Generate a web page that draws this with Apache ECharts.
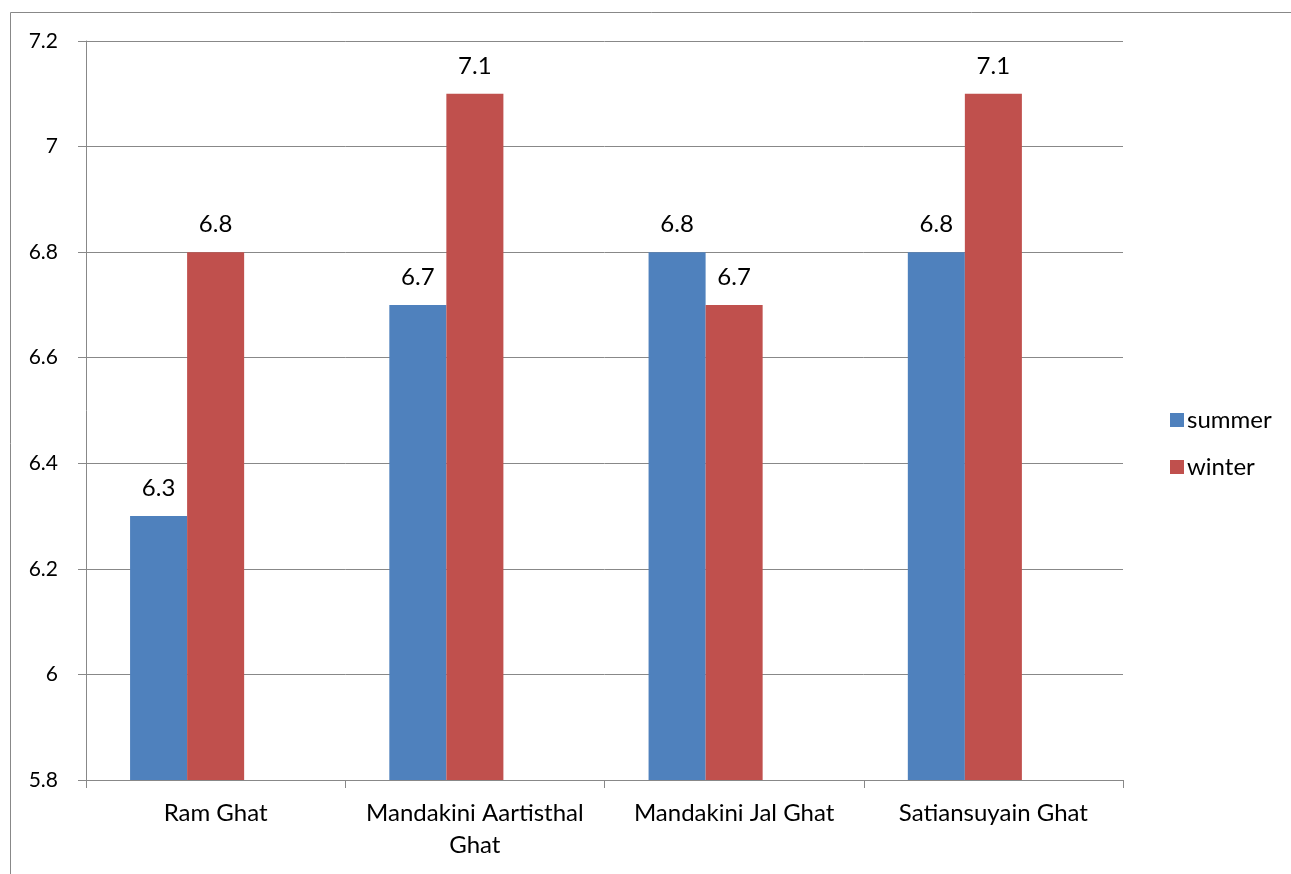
<!DOCTYPE html>
<html><head><meta charset="utf-8">
<script src="https://cdn.jsdelivr.net/npm/echarts@6/dist/echarts.min.js"></script>
<style>html,body{margin:0;padding:0;background:#fff}#c{width:1291px;height:874px}</style>
</head><body><div id="c"></div>
<script>
const categories = ['Ram Ghat', 'Mandakini Aartisthal\nGhat', 'Mandakini Jal Ghat', 'Satiansuyain Ghat'];
const summer = [6.3, 6.7, 6.8, 6.8];
const winter = [6.8, 7.1, 6.7, 7.1];
const emptySlot = ['-', '-', '-', '-'];
const yTicks = [5.8, 6, 6.2, 6.4, 6.6, 6.8, 7, 7.2];

const font = 'Lato, "Open Sans", sans-serif';
const chart = echarts.init(document.getElementById('c'), null, {renderer: 'canvas'});
const dataLabel = {show: true, position: 'top', distance: 16, fontSize: 24, color: '#000', fontFamily: font};
chart.setOption({
  animation: false,
  textStyle: {fontFamily: font},
  graphic: [{type: 'rect', shape: {x: 10.5, y: 12.5, width: 1400, height: 1000}, style: {fill: 'none', stroke: '#888', lineWidth: 1}, silent: true}],
  grid: {left: 86, top: 41, width: 1037, height: 739, containLabel: false},
  legend: {
    orient: 'vertical', left: 1165, top: 403, itemWidth: 14, itemHeight: 14, itemGap: 23,
    icon: 'rect', textStyle: {fontSize: 24, color: '#000', fontFamily: font, padding: [0, 0, 0, -2]},
    data: ['summer', 'winter']
  },
  xAxis: {
    type: 'category', data: categories,
    axisLine: {lineStyle: {color: '#888', width: 1}},
    axisTick: {show: true, length: 8, lineStyle: {color: '#888'}},
    axisLabel: {fontSize: 24, color: '#000', margin: 17, lineHeight: 32, interval: 0, fontFamily: font}
  },
  yAxis: {
    type: 'value', min: 5.8, max: 7.2, interval: 0.2,
    axisLine: {show: true, lineStyle: {color: '#888'}},
    axisTick: {show: true, length: 8, lineStyle: {color: '#888'}},
    splitLine: {lineStyle: {color: '#888', width: 1}},
    axisLabel: {fontSize: 21, color: '#000', margin: 28, fontFamily: font,
      formatter: v => { const t = yTicks.find(x => Math.abs(x - v) < 1e-6); return t === undefined ? '' : String(t); }}
  },
  series: [
    {name: 'summer', type: 'bar', data: summer, barWidth: '22%', barGap: '0%', itemStyle: {color: '#4F81BD'}, label: dataLabel},
    {name: 'winter', type: 'bar', data: winter, barWidth: '22%', barGap: '0%', itemStyle: {color: '#C0504D'}, label: dataLabel},
    {name: 'blank', type: 'bar', data: emptySlot, barWidth: '22%', barGap: '0%', itemStyle: {color: 'rgba(0,0,0,0)'}}
  ]
});
</script></body></html>
